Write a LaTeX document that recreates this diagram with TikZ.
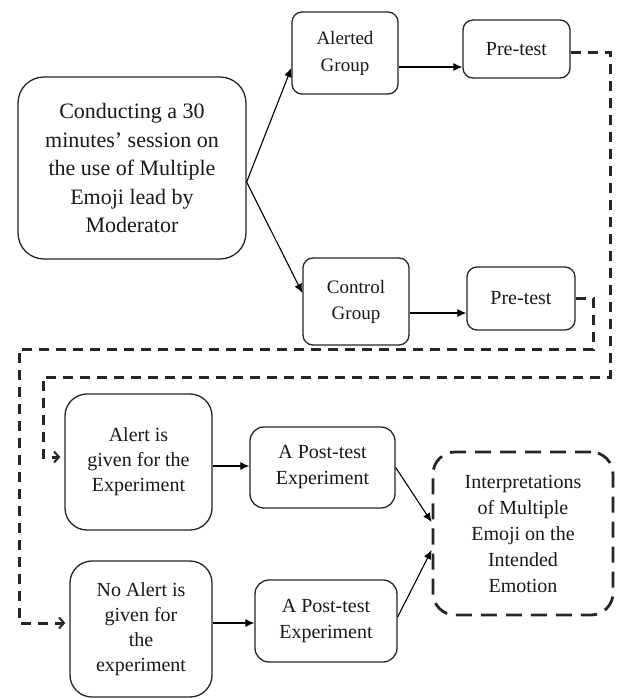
\documentclass[tikz,border=0pt]{standalone}
\usepackage{fontspec}
\setmainfont{Liberation Serif}
\usetikzlibrary{arrows.meta,calc}
\begin{document}
\begin{tikzpicture}[x=1pt,y=-1pt,
  box/.style={draw=black!85, line width=1.3pt, rounded corners=10pt, align=center,
    inner sep=0pt, font=\fontsize{20}{26}\selectfont, text=black!90},
  bigbox/.style={box, rounded corners=22pt},
  arr/.style={line width=1.1pt, -{Latex[length=9pt,width=8pt]}},
  dline/.style={draw=black!85, line width=3pt, dash pattern=on 10pt off 7pt},
  dtip/.style={-{Straight Barb[length=5pt,width=11pt,line width=2pt]}},
]
\useasboundingbox (0,0) rectangle (621,699);
\fill[white] (0,0) rectangle (621,699);

% nodes
\node[bigbox, rounded corners=26pt, minimum width=228pt, minimum height=182pt,
  font=\fontsize{22}{28.5}\selectfont] (main) at (132,168)
  {Conducting a 30\\minutes' session on\\the use of Multiple\\Emoji lead by\\Moderator};
\node[box, minimum width=106pt, minimum height=82pt, font=\fontsize{19}{27}\selectfont] (ag) at (345,53) {Alerted\\Group};
\node[box, minimum width=107pt, minimum height=58pt] (pt1) at (516.5,49) {Pre-test};
\node[box, minimum width=106pt, minimum height=87pt, font=\fontsize{19}{26}\selectfont] (cg) at (356,301.5) {Control\\Group};
\node[box, minimum width=108pt, minimum height=63pt] (pt2) at (521,298.5) {Pre-test};
\node[bigbox, minimum width=147pt, minimum height=136pt, font=\fontsize{20}{25}\selectfont] (al) at (138.5,462) {Alert is\\given for the\\Experiment};
\node[box, rounded corners=14pt, minimum width=145pt, minimum height=81pt] (post1) at (322.5,467.5) {A Post-test\\Experiment};
\node[bigbox, minimum width=142pt, minimum height=136pt, font=\fontsize{20}{25}\selectfont] (na) at (141,629) {No Alert is\\given for\\the\\experiment};
\node[box, rounded corners=14pt, minimum width=142pt, minimum height=82pt] (post2) at (326,621) {A Post-test\\Experiment};
\node[box, rounded corners=22pt, line width=2.8pt, dash pattern=on 16pt off 9pt,
  minimum width=180pt, minimum height=163pt] (interp) at (523,533.5)
  {Interpretations\\of Multiple\\Emoji on the\\Intended\\Emotion};

% connector start points
\coordinate (s1) at ($(ag.east)+(0,14)$);
\coordinate (s2) at ($(cg.east)+(0,11.5)$);
\coordinate (s3) at ($(al.east)+(0,4)$);
\coordinate (s4) at ($(na.east)+(0,-6)$);

% solid arrows
\draw[arr] ($(main.east)+(0,14)$) -- ($(ag.west)+(0,15)$);
\draw[arr] ($(main.east)+(0,14)$) -- ($(cg.west)+(0,-8.5)$);
\draw[arr] (s1) -- (s1 -| pt1.west);
\draw[arr] (s2) -- (s2 -| pt2.west);
\draw[arr] (s3) -- (s3 -| post1.west);
\draw[arr] (s4) -- (s4 -| post2.west);
\draw[arr] (post1.east) -- ($(interp.west)+(0,-11.5)$);
\draw[arr] ($(post2.east)+(0,-4)$) -- ($(interp.west)+(0,16.5)$);

% dashed connectors
\coordinate (ra) at (610,377);
\coordinate (la) at (43,457);
\coordinate (rb) at (593,349);
\coordinate (lb) at (19,623);
\coordinate (ea) at ($(al.west)+(-4,-5)$);
\coordinate (eb) at ($(na.west)+(-4,-6)$);
\draw[dline, dtip] ($(pt1.east)+(0,3)$) -| (ra) -| (la) -- (ea);
\draw[dline, dtip] ($(pt2.east)+(0,-0.5)$) -| (rb) -| (lb) -- (eb);
\end{tikzpicture}
\end{document}
